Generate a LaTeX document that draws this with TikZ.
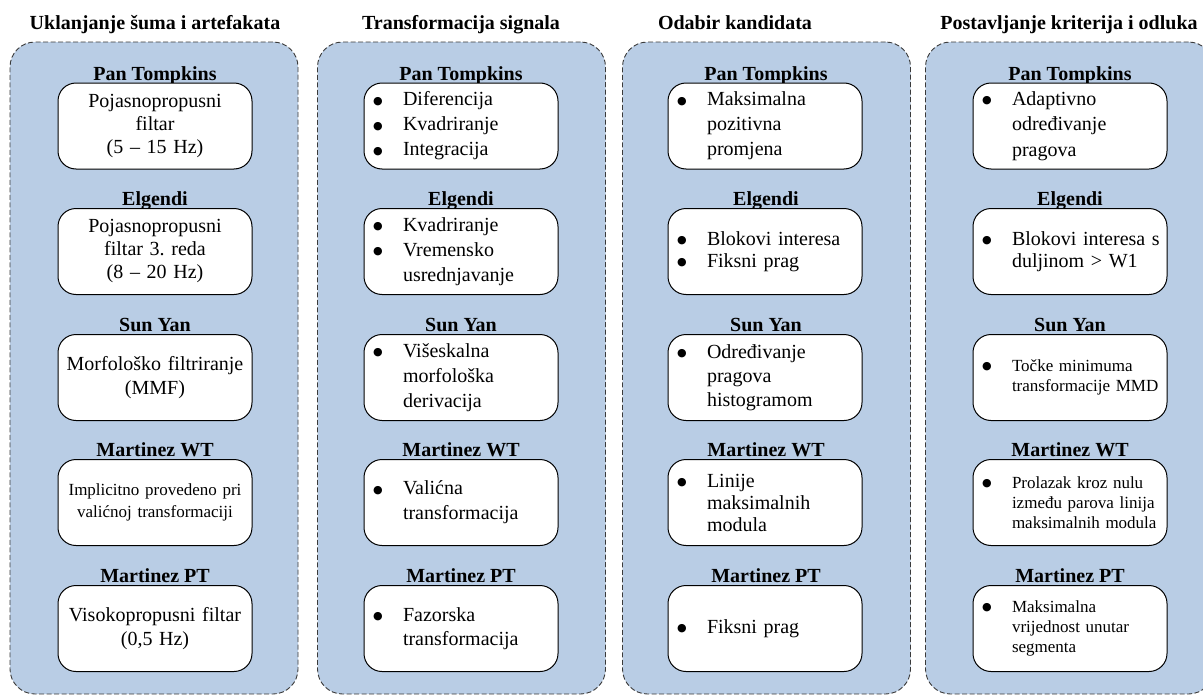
\documentclass[tikz,border=0pt]{standalone}
\usepackage{fontspec}
\setmainfont{Liberation Serif}
\newfontfamily\symfont{DejaVu Sans}
\frenchspacing
\definecolor{panelblue}{HTML}{B9CDE5}
\definecolor{paneledge}{HTML}{3A3A3A}
\newcommand{\bul}{\hspace*{3pt}\makebox[30pt][l]{\symfont\fontsize{11}{11}\selectfont\raisebox{1.8pt}{●}}}
\newcommand{\indt}{\hspace*{33pt}}
\tikzset{
  panel/.style={draw=paneledge, dash pattern=on 5pt off 2.5pt, fill=panelblue, rounded corners=25pt, line width=0.9pt, minimum width=288pt, minimum height=652pt, inner sep=0pt},
  ttl/.style={font=\fontsize{20}{24}\selectfont\bfseries, anchor=base, inner sep=0pt},
  hdr/.style={font=\fontsize{20}{24}\selectfont\bfseries, anchor=base, inner sep=0pt},
  box/.style={draw=black, fill=white, rounded corners=18pt, line width=1pt, minimum width=194pt, minimum height=86pt, inner ysep=0pt, font=\fontsize{20}{24}\selectfont, execute at begin node={\hyphenpenalty=10000\exhyphenpenalty=10000}},
  cbox/.style={box, align=center, text width=186pt, inner xsep=4pt},
  lbox/.style={box, align=left, text width=182pt, inner xsep=6pt},
  small/.style={font=\fontsize{17}{20}\selectfont},
  tight/.style={font=\fontsize{20}{22}\selectfont}
}
\begin{document}
\begin{tikzpicture}[x=1pt,y=-1pt]
\useasboundingbox (0,0) rectangle (1203,696);
\clip (0,0) rectangle (1203,696);
% panels
\node[panel] (p1) at (154,368) {};
\node[panel] (p2) at (461.5,368) {};
\node[panel] (p3) at (766.5,368) {};
\node[panel] (p4) at (1069.5,368) {};
% titles
\node[ttl] (t1) at (155,30) {Uklanjanje šuma i artefakata};
\node[ttl] (t2) at (461,30) {Transformacija signala};
\node[ttl] (t3) at (735,30) {Odabir kandidata};
\node[ttl] (t4) at (1069,30) {Postavljanje kriterija i odluka};
% headers
\foreach \c/\x in {1/155,2/461,3/766,4/1070}{
  \node[hdr] (h\c1) at (\x,80) {Pan Tompkins};
  \node[hdr] (h\c2) at (\x,205) {Elgendi};
  \node[hdr] (h\c3) at (\x,331) {Sun Yan};
  \node[hdr] (h\c4) at (\x,456) {Martinez WT};
  \node[hdr] (h\c5) at (\x,582) {Martinez PT};
}
% column 1
\node[cbox, font=\fontsize{20}{23}\selectfont] (b11) at (155,126) {Pojasnopropusni\\filtar\\(5 – 15 Hz)};
\node[cbox, font=\fontsize{20}{23}\selectfont] (b12) at (155,251.5) {Pojasnopropusni\\filtar 3. reda\\(8 – 20 Hz)};
\node[cbox] (b13) at (155,377.5) {Morfološko filtriranje\\(MMF)};
\node[cbox, font=\fontsize{17}{22}\selectfont] (b14) at (155,502.5) {Implicitno provedeno pri\\valićnoj transformaciji};
\node[cbox] (b15) at (155,628.5) {Visokopropusni filtar\\(0,5 Hz)};
% column 2
\node[lbox, font=\fontsize{20}{25}\selectfont] (b21) at (461,126) {\bul Diferencija\\\bul Kvadriranje\\\bul Integracija};
\node[lbox, font=\fontsize{20}{25}\selectfont] (b22) at (461,251.5) {\bul Kvadriranje\\\bul Vremensko\\\indt usrednjavanje};
\node[lbox, font=\fontsize{20}{25}\selectfont] (b23) at (461,377.5) {\bul Višeskalna\\\indt morfološka\\\indt derivacija};
\node[lbox, font=\fontsize{20}{25}\selectfont] (b24) at (461,502.5) {\bul Valićna\\\indt transformacija};
\node[lbox, font=\fontsize{20}{24}\selectfont] (b25) at (461,628.5) {\bul Fazorska\\\indt transformacija};
% column 3
\node[lbox, font=\fontsize{20}{25}\selectfont] (b31) at (765,126) {\bul Maksimalna\\\indt pozitivna\\\indt promjena};
\node[lbox, tight] (b32) at (765,251.5) {\bul Blokovi interesa\\\bul Fiksni prag};
\node[lbox, font=\fontsize{20}{24}\selectfont] (b33) at (765,377.5) {\bul Određivanje\\\indt pragova\\\indt histogramom};
\node[lbox, tight] (b34) at (765,502.5) {\bul Linije\\\indt maksimalnih\\\indt modula};
\node[lbox] (b35) at (765,628.5) {\bul Fiksni prag};
% column 4
\node[lbox, font=\fontsize{20}{25.5}\selectfont] (b41) at (1070,126) {\bul Adaptivno\\\indt određivanje\\\indt pragova};
\node[lbox, tight] (b42) at (1070,251.5) {\bul Blokovi interesa s\\\indt duljinom > W1};
\node[lbox, small] (b43) at (1070,377.5) {\bul Točke minimuma\\\indt transformacije MMD};
\node[lbox, small] (b44) at (1070,502.5) {\bul Prolazak kroz nulu\\\indt između parova linija\\\indt maksimalnih modula};
\node[lbox, small] (b45) at (1070,628.5) {\bul Maksimalna\\\indt vrijednost unutar\\\indt segmenta};
\end{tikzpicture}
\end{document}
